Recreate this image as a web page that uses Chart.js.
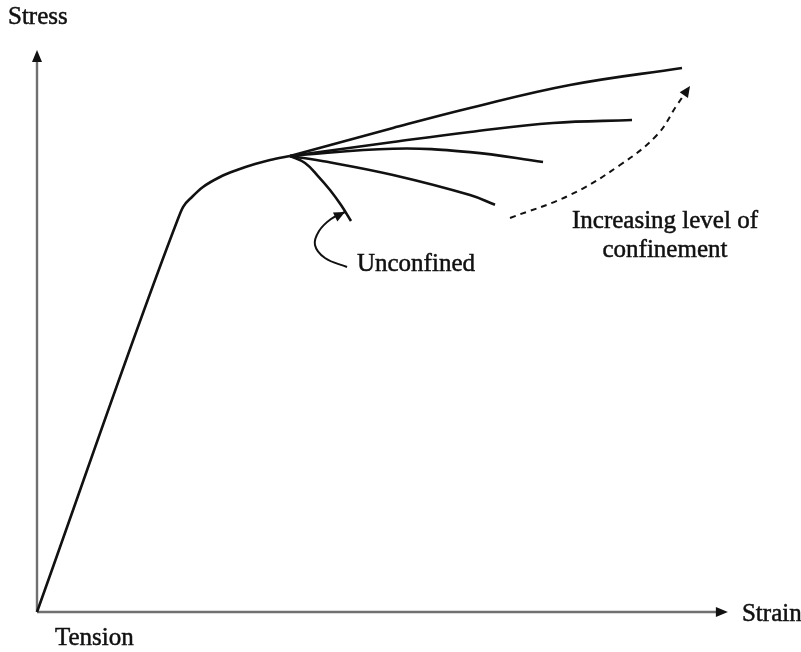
<!DOCTYPE html>
<html>
<head>
<meta charset="utf-8">
<script src="https://cdn.jsdelivr.net/npm/chart.js@4/dist/chart.umd.min.js"></script>
<style>
  html, body { margin: 0; background: #fff; }
  canvas { display: block; }
</style>
</head>
<body>
<canvas id="grafico" width="801" height="652"></canvas>
<script>
// tronco comum: trecho linear + curvatura até o ponto de ramificação
const baseStrain = [0, 19.86, 20.86, 22.14, 23.71, 26.14, 28.57, 31.14, 33.29, 36.14];
const baseStress = [0, 67.83, 70.8, 72.55, 74.3, 76.05, 77.27, 78.32, 79.02, 79.72];

// ramos com confinamento crescente (do mais alto para o mais baixo)
const ramo1Strain = [36.14, 50.86, 61.86, 76.14, 92.14];
const ramo1Stress = [79.72, 84.62, 88.11, 92.13, 95.1];
const ramo2Strain = [36.14, 50.86, 61.86, 73.71, 85.0];
const ramo2Stress = [79.72, 82.17, 83.92, 85.49, 86.01];
const ramo3Strain = [36.14, 50.86, 61.86, 72.29];
const ramo3Stress = [79.72, 81.0, 80.4, 78.67];
const ramo4Strain = [36.14, 41.43, 50.86, 61.86, 65.43];
const ramo4Stress = [79.72, 78.7, 76.4, 72.9, 71.2];

// não confinado
const naoConfStrain = [36.14, 38.29, 40.14, 41.86, 43.43, 44.86];
const naoConfStress = [79.72, 78.5, 76.22, 73.78, 71.15, 68.36];

// setas indicativas
const setaConfStrain = [67.57, 76.14, 83.29, 88.57, 91.43, 93.29];
const setaConfStress = [68.88, 72.9, 78.15, 83.39, 88.64, 91.96];
const setaNaoConfStrain = [44.29, 41.14, 39.71, 40.29, 42.0, 44.0];
const setaNaoConfStress = [60.31, 61.89, 64.16, 66.61, 68.71, 69.93];

// extensão dos eixos
const eixoStrainMax = 98.7;
const eixoStressMax = 98.25;

const rotulos = ['Stress', 'Strain', 'Tension', 'Unconfined', 'Increasing level of', 'confinement'];

function pontos(xs, ys) {
  return xs.map((v, i) => ({ x: v, y: ys[i] }));
}

function linha(xs, ys, extra) {
  return Object.assign({
    data: pontos(xs, ys),
    showLine: true,
    borderColor: '#111',
    borderWidth: 2.6,
    pointRadius: 0,
    tension: 0.4,
    clip: false
  }, extra || {});
}

function ponta(ctx, x0, y0, x1, y1, tam, larg) {
  const a = Math.atan2(y1 - y0, x1 - x0);
  ctx.beginPath();
  ctx.moveTo(x1, y1);
  ctx.lineTo(x1 - tam * Math.cos(a) + larg * Math.sin(a), y1 - tam * Math.sin(a) - larg * Math.cos(a));
  ctx.lineTo(x1 - tam * Math.cos(a) - larg * Math.sin(a), y1 - tam * Math.sin(a) + larg * Math.cos(a));
  ctx.closePath();
  ctx.fill();
}

function texto(ctx, s, x, y) {
  ctx.fillText(s, x, y);
  ctx.strokeText(s, x, y);
}

const eixos = {
  id: 'eixos',
  beforeDatasetsDraw(chart) {
    const { ctx, scales: { x, y } } = chart;
    const x0 = x.getPixelForValue(0), y0 = y.getPixelForValue(0);
    const xf = x.getPixelForValue(eixoStrainMax), yf = y.getPixelForValue(eixoStressMax);
    ctx.save();
    ctx.strokeStyle = '#707070';
    ctx.fillStyle = '#111';
    ctx.lineWidth = 2.4;
    ctx.beginPath();
    ctx.moveTo(x0, y0); ctx.lineTo(xf - 6, y0);
    ctx.moveTo(x0, y0); ctx.lineTo(x0, yf + 6);
    ctx.stroke();
    ponta(ctx, x0, y0, xf, y0, 12, 5);
    ponta(ctx, x0, y0, x0, yf, 12, 5);
    ctx.restore();
  },
  afterDatasetsDraw(chart) {
    const { ctx, scales: { x, y } } = chart;
    const px = v => x.getPixelForValue(v);
    const py = v => y.getPixelForValue(v);
    ctx.save();
    ctx.fillStyle = '#111';
    ctx.strokeStyle = '#111';
    // pontas das setas curvas
    [6, 7].forEach(i => {
      const d = chart.getDatasetMeta(i).data;
      const a = d[d.length - 2], b = d[d.length - 1];
      ponta(ctx, a.x, a.y, b.x, b.y, 11, 5);
    });
    ctx.font = '25px "Liberation Serif", "Times New Roman", serif';
    ctx.lineWidth = 0.5;
    ctx.textBaseline = 'alphabetic';
    ctx.textAlign = 'left';
    texto(ctx, rotulos[0], px(-4.14), py(102.8));
    texto(ctx, rotulos[1], px(100.71), py(-1.57));
    texto(ctx, rotulos[2], px(2.57), py(-5.77));
    texto(ctx, rotulos[3], px(45.71), py(59.62));
    ctx.textAlign = 'center';
    texto(ctx, rotulos[4], px(89.71), py(67.13));
    texto(ctx, rotulos[5], px(89.71), py(62.06));
    ctx.restore();
  }
};

const ctx = document.getElementById('grafico').getContext('2d');
new Chart(ctx, {
  type: 'scatter',
  data: {
    datasets: [
      linha(baseStrain, baseStress, { tension: 0, cubicInterpolationMode: 'monotone' }),
      linha(ramo1Strain, ramo1Stress),
      linha(ramo2Strain, ramo2Stress),
      linha(ramo3Strain, ramo3Stress),
      linha(ramo4Strain, ramo4Stress),
      linha(naoConfStrain, naoConfStress),
      linha(setaConfStrain, setaConfStress, { borderWidth: 2, borderDash: [6, 5] }),
      linha(setaNaoConfStrain, setaNaoConfStress, { borderWidth: 2 })
    ]
  },
  options: {
    responsive: false,
    animation: false,
    layout: { padding: { left: 37, right: 64, top: 40, bottom: 40 } },
    plugins: { legend: { display: false }, tooltip: { enabled: false } },
    scales: {
      x: { type: 'linear', min: 0, max: 100, display: false },
      y: { type: 'linear', min: 0, max: 100, display: false }
    }
  },
  plugins: [eixos]
});
</script>
</body>
</html>
